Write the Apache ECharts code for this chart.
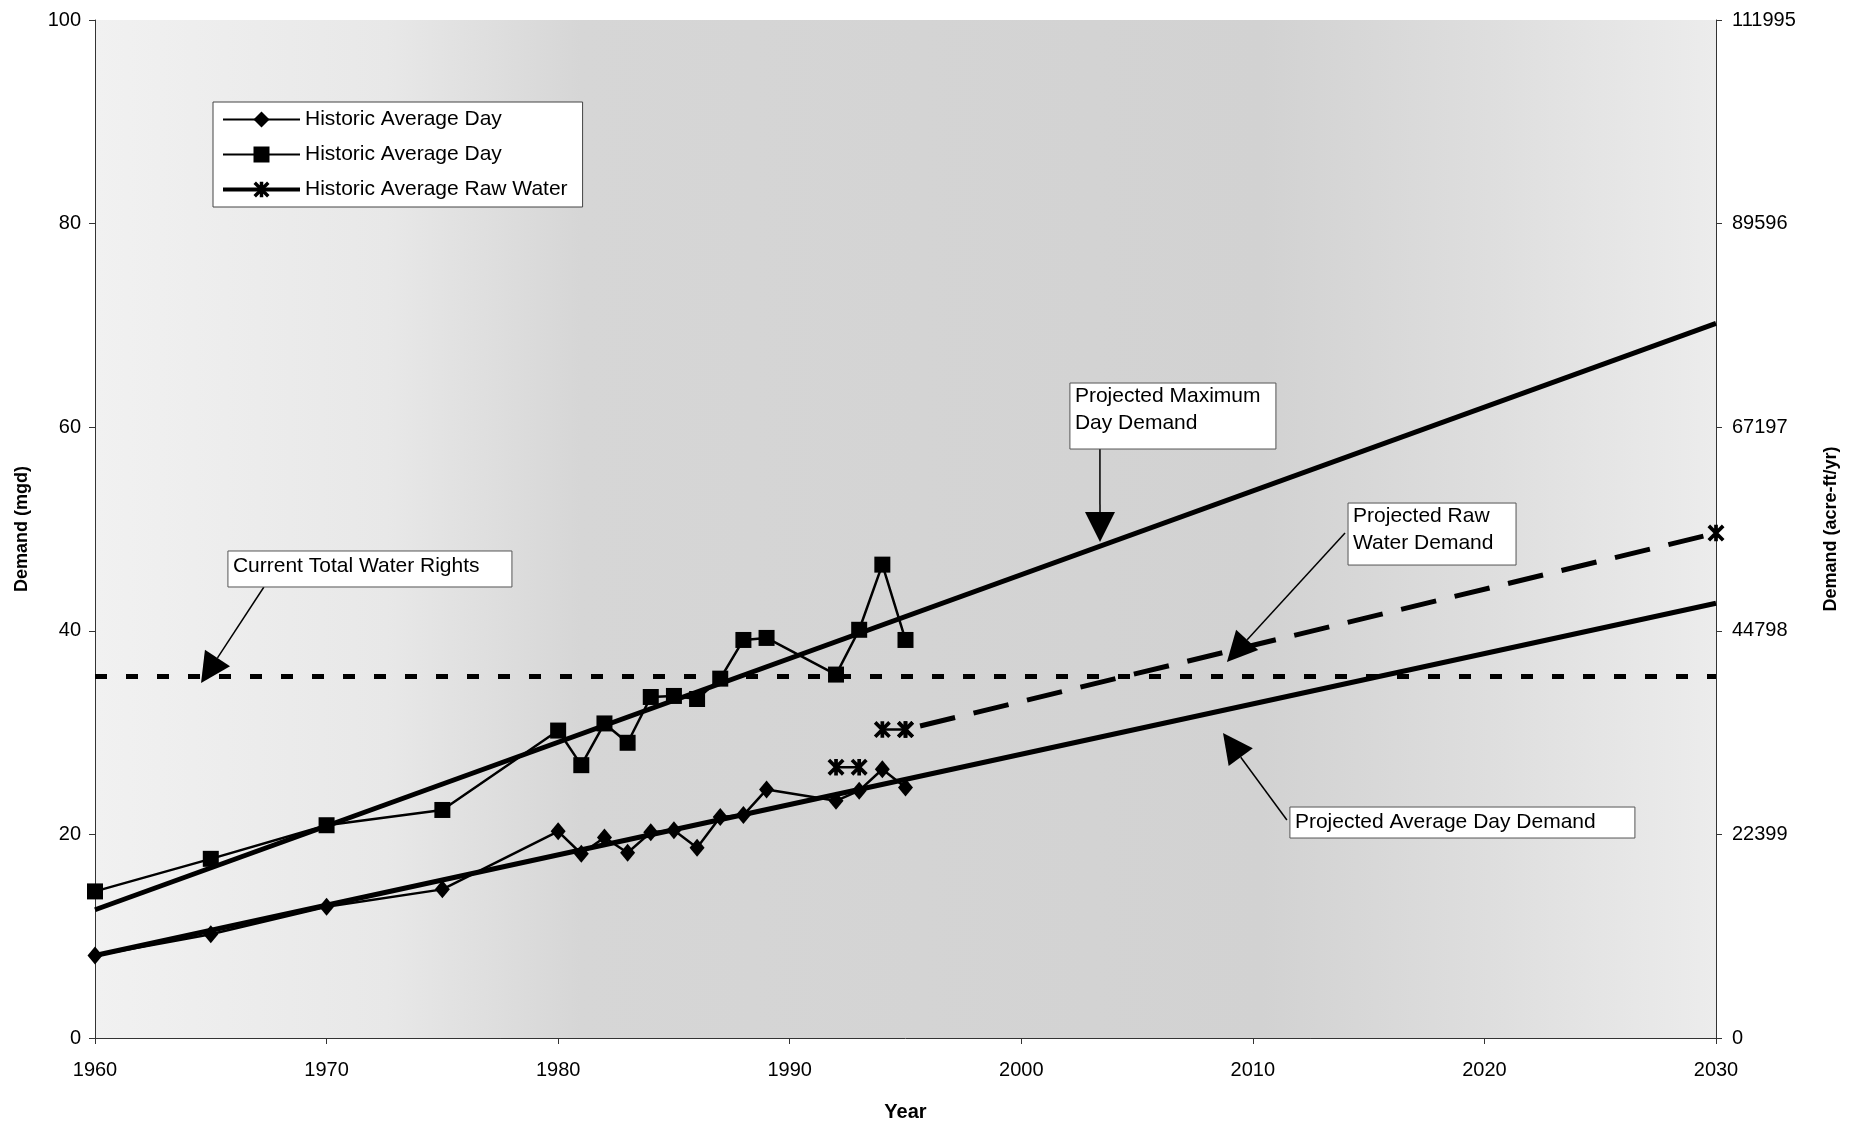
<!DOCTYPE html>
<html>
<head>
<meta charset="utf-8">
<script src="https://cdn.jsdelivr.net/npm/echarts@6/dist/echarts.min.js"></script>
<style>
  html, body { margin: 0; padding: 0; background: #fff; }
  #chart { width: 1866px; height: 1128px; }
</style>
</head>
<body>
<div id="chart"></div>
<script>
// Historic demand records (mgd)
const histYears = [1960, 1965, 1970, 1975, 1980, 1981, 1982, 1983, 1984, 1985, 1986, 1987, 1988, 1989, 1992, 1993, 1994, 1995];
const avgDay    = [8.1, 10.2, 12.9, 14.6, 20.3, 18.1, 19.7, 18.2, 20.2, 20.4, 18.7, 21.7, 21.9, 24.4, 23.3, 24.3, 26.4, 24.6];
const maxDay    = [14.4, 17.6, 20.9, 22.4, 30.2, 26.8, 30.9, 29.0, 33.5, 33.6, 33.3, 35.3, 39.1, 39.3, 35.7, 40.1, 46.5, 39.1];
const rawYears  = [1992, 1993, 1994, 1995];
const rawWater  = [26.6, 26.6, 30.3, 30.3];

// Projections (mgd)
const projYears    = [1960, 2030];
const projMaxDay   = [12.6, 70.2];
const projAvgDay   = [8.1, 42.7];
const projRawYears = [1995, 2030];
const projRawWater = [30.3, 49.6];
const waterRights  = 35.5;

// Axis ticks
const yearTicks   = [1960, 1970, 1980, 1990, 2000, 2010, 2020, 2030];
const mgdTicks    = [0, 20, 40, 60, 80, 100];
const acreFtTicks = [0, 22399, 44798, 67197, 89596, 111995];

// Legend entries: series name -> label
const legendNames  = ['Historic Average Day', 'Historic Maximum Day', 'Historic Average Raw Water'];
const legendLabels = ['Historic Average Day', 'Historic Average Day', 'Historic Average Raw Water'];

const FONT = '"Liberation Sans", Arial, Helvetica, sans-serif';
// Asterisk marker: vertical bar plus two diagonals
const STAR = 'path://M-1.8,-8L1.8,-8L1.8,8L-1.8,8Z' +
             'M-5.73,-8.27L8.27,5.73L5.73,8.27L-8.27,-5.73Z' +
             'M-8.27,5.73L5.73,-8.27L8.27,-5.73L-5.73,8.27Z';

const pairs = (xs, ys) => xs.map((x, i) => [x, ys[i]]);

const chart = echarts.init(document.getElementById('chart'), null, { renderer: 'canvas' });

const axisLineStyle = { show: true, lineStyle: { color: '#333', width: 1 } };
const tickStyle = { show: true, inside: false, length: 6, lineStyle: { color: '#333', width: 1 } };

const thin = { color: '#000', width: 2.5 };
const thick = { color: '#000', width: 5 };

chart.setOption({
  animation: false,
  backgroundColor: '#fff',
  textStyle: { fontFamily: FONT },
  grid: {
    left: 95, right: 150, top: 20, bottom: 90,
    outerBoundsMode: 'none',
    show: true,
    borderWidth: 0,
    backgroundColor: {
      type: 'linear', x: 0, y: 0, x2: 1, y2: 0,
      colorStops: [
        { offset: 0.00, color: '#f1f1f1' },
        { offset: 0.18, color: '#e8e8e8' },
        { offset: 0.30, color: '#d6d6d6' },
        { offset: 0.72, color: '#d2d2d2' },
        { offset: 0.86, color: '#dedede' },
        { offset: 1.00, color: '#ececec' }
      ]
    }
  },
  legend: {
    orient: 'vertical',
    left: 213, top: 102,
    padding: [7, 15, 7, 8],
    itemWidth: 77, itemHeight: 20, itemGap: 14,
    backgroundColor: '#fff',
    borderColor: '#444', borderWidth: 1,
    textStyle: { fontSize: 21, color: '#000', fontFamily: FONT },
    formatter: name => legendLabels[legendNames.indexOf(name)],
    data: [
      { name: legendNames[0] },
      { name: legendNames[1] },
      { name: legendNames[2], lineStyle: { width: 4 } }
    ],
    selectedMode: false
  },
  xAxis: {
    type: 'value',
    min: yearTicks[0], max: yearTicks[yearTicks.length - 1], interval: 10,
    axisLine: axisLineStyle,
    axisTick: tickStyle,
    splitLine: { show: false },
    axisLabel: { fontSize: 20, color: '#000', margin: 22, formatter: v => String(v) },
    name: 'Year', nameLocation: 'middle', nameGap: 64,
    nameTextStyle: { fontSize: 20, fontWeight: 'bold', color: '#000' }
  },
  yAxis: [
    {
      type: 'value', position: 'left',
      min: mgdTicks[0], max: mgdTicks[mgdTicks.length - 1], interval: 20,
      axisLine: axisLineStyle,
      axisTick: tickStyle,
      splitLine: { show: false },
      axisLabel: { fontSize: 20, color: '#000', margin: 14 },
      name: 'Demand (mgd)', nameLocation: 'middle', nameRotate: 90, nameGap: 64,
      nameTextStyle: { fontSize: 18, fontWeight: 'bold', color: '#000' }
    },
    {
      type: 'value', position: 'right',
      min: acreFtTicks[0], max: acreFtTicks[acreFtTicks.length - 1], interval: acreFtTicks[1],
      axisLine: axisLineStyle,
      axisTick: tickStyle,
      splitLine: { show: false },
      axisLabel: { fontSize: 20, color: '#000', margin: 16, formatter: v => String(Math.round(v)) },
      name: 'Demand (acre-ft/yr)', nameLocation: 'middle', nameRotate: 90, nameGap: 106,
      nameTextStyle: { fontSize: 18, fontWeight: 'bold', color: '#000' }
    }
  ],
  series: [
    {
      name: 'Current Total Water Rights', type: 'line', symbol: 'none', z: 2,
      data: [[yearTicks[0], waterRights], [yearTicks[yearTicks.length - 1], waterRights]],
      lineStyle: { color: '#000', width: 5, type: [12, 19] }
    },
    {
      name: 'Projected Maximum Day Demand', type: 'line', symbol: 'none', z: 3,
      data: pairs(projYears, projMaxDay), lineStyle: thick
    },
    {
      name: 'Projected Average Day Demand', type: 'line', symbol: 'none', z: 3,
      data: pairs(projYears, projAvgDay), lineStyle: thick
    },
    {
      name: 'Projected Raw Water Demand', type: 'line', z: 3,
      symbol: STAR, symbolSize: 17, showAllSymbol: true,
      itemStyle: { color: '#000' },
      data: pairs(projRawYears, projRawWater),
      lineStyle: { color: '#000', width: 5, type: [36, 19], dashOffset: 40 }
    },
    {
      name: legendNames[0], type: 'line', z: 4,
      symbol: 'diamond', symbolSize: [15, 18], showAllSymbol: true,
      itemStyle: { color: '#000' },
      data: pairs(histYears, avgDay), lineStyle: thin
    },
    {
      name: legendNames[1], type: 'line', z: 4,
      symbol: 'rect', symbolSize: 16, showAllSymbol: true,
      itemStyle: { color: '#000' },
      data: pairs(histYears, maxDay), lineStyle: thin
    },
    {
      name: legendNames[2], type: 'line', z: 4,
      symbol: STAR, symbolSize: 17, showAllSymbol: true,
      itemStyle: { color: '#000' },
      data: pairs(rawYears.slice(0, 2), rawWater.slice(0, 2)), lineStyle: thin
    },
    {
      name: legendNames[2], type: 'line', z: 4,
      symbol: STAR, symbolSize: 17, showAllSymbol: true,
      itemStyle: { color: '#000' },
      data: pairs(rawYears.slice(2), rawWater.slice(2)), lineStyle: thin
    }
  ]
});

// Callout boxes with arrows, anchored to the plot's data coordinates
const notes = [
  { lines: ['Current Total Water Rights'], at: [1965.74, 47.84], w: 284, h: 36, tail: [36, 36], tip: [1964.58, 34.87] },
  { lines: ['Projected Maximum', 'Day Demand'], at: [2002.10, 64.34], w: 206, h: 66, tail: [30, 66], tip: [2003.40, 48.72] },
  { lines: ['Projected Raw', 'Water Demand'], at: [2014.11, 52.55], w: 168, h: 62, tail: [-3, 30], tip: [2008.88, 36.94] },
  { lines: ['Projected Average Day Demand'], at: [2011.60, 22.69], w: 345, h: 31, tail: [-3, 13], tip: [2008.71, 29.96] }
];

const toPx = pt => chart.convertToPixel({ xAxisIndex: 0, yAxisIndex: 0 }, pt);
const graphics = [];
notes.forEach(n => {
  const [bx, by] = toPx(n.at);
  const [tx, ty] = toPx(n.tip);
  const sx = bx + n.tail[0], sy = by + n.tail[1];
  const len = Math.hypot(tx - sx, ty - sy);
  const ux = (tx - sx) / len, uy = (ty - sy) / len;
  const headLen = 30, headHalf = 15;
  const baseX = tx - ux * headLen, baseY = ty - uy * headLen;
  graphics.push({
    type: 'line', z: 10,
    shape: { x1: sx, y1: sy, x2: baseX, y2: baseY },
    style: { stroke: '#000', lineWidth: 1.5 }
  });
  graphics.push({
    type: 'polygon', z: 10,
    shape: { points: [[tx, ty], [baseX - uy * headHalf, baseY + ux * headHalf], [baseX + uy * headHalf, baseY - ux * headHalf]] },
    style: { fill: '#000' }
  });
  graphics.push({
    type: 'rect', z: 11,
    shape: { x: bx, y: by, width: n.w, height: n.h },
    style: { fill: '#fff', stroke: '#555', lineWidth: 1 }
  });
  graphics.push({
    type: 'text', z: 12,
    x: bx + 5, y: by + (n.lines.length === 1 ? 2 : 0),
    style: {
      text: n.lines.join('\n'),
      font: '21px ' + FONT,
      lineHeight: 27,
      fill: '#000',
      verticalAlign: 'top',
      align: 'left'
    }
  });
});
chart.setOption({ graphic: graphics });
</script>
</body>
</html>
